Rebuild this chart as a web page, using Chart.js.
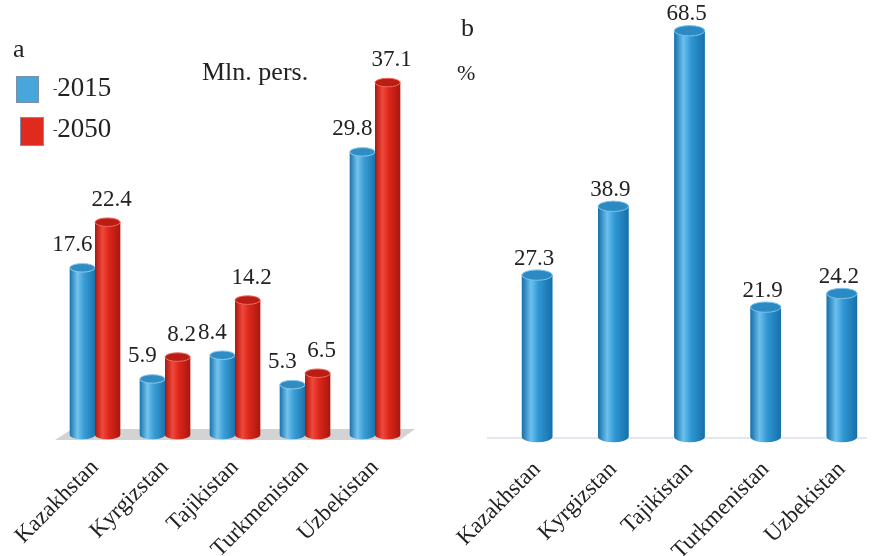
<!DOCTYPE html>
<html>
<head>
<meta charset="utf-8">
<script src="https://cdn.jsdelivr.net/npm/chart.js@4/dist/chart.umd.min.js"></script>
<style>
  body { margin: 0; background: #fff; width: 880px; height: 556px; position: relative; overflow: hidden;
         font-family: "Liberation Serif", "DejaVu Serif", serif; color: #222; }
  .panel { position: absolute; top: 0; width: 440px; height: 556px; }
  .txt { position: absolute; font-size: 26px; line-height: 1; white-space: nowrap; }
  .box { position: absolute; border: 1px solid #7a8fa8; }
  .dash { font-size: 13px; vertical-align: 3px; }
</style>
</head>
<body>
<div class="panel" style="left:0"><canvas id="chartA" width="440" height="556"></canvas></div>
<div class="panel" style="left:440px"><canvas id="chartB" width="440" height="556"></canvas></div>

<div class="txt" style="left:13px;top:36px">a</div>
<div class="box" style="left:16px;top:76px;width:21px;height:25px;background:#47a6da"></div>
<div class="txt" style="left:53px;top:74px;font-size:27px"><span class="dash">-</span>2015</div>
<div class="box" style="left:20px;top:117px;width:22px;height:27px;background:#e02a1e"></div>
<div class="txt" style="left:53px;top:115px;font-size:27px"><span class="dash">-</span>2050</div>
<div class="txt" style="left:202px;top:59px;font-size:26px">Mln. pers.</div>
<div class="txt" style="left:461px;top:15px">b</div>
<div class="txt" style="left:457px;top:62px;font-size:22px">%</div>

<script>
const countries = ["Kazakhstan", "Kyrgizstan", "Tajikistan", "Turkmenistan", "Uzbekistan"];
const pop2015 = [17.6, 5.9, 8.4, 5.3, 29.8];
const pop2050 = [22.4, 8.2, 14.2, 6.5, 37.1];
const shares = [27.3, 38.9, 68.5, 21.9, 24.2];

const serif = "'Liberation Serif', 'DejaVu Serif', serif";

const blueTone = { dark: "#1b74ad", mid: "#3c9fd6", light: "#74c3ec", cap: "#2f8dc3", rim: "#8ccbee" };
const redTone = { dark: "#a9170f", mid: "#dc271c", light: "#f0483a", cap: "#b91d14", rim: "#f06a5e" };
const blueTone2 = { dark: "#176fa8", mid: "#2f97d3", light: "#6cc0ee", cap: "#2b8ac4", rim: "#7cc2ea" };

// draws cylinder shading over each bar, and the value label above it
const cylinders = {
  id: "cylinders",
  beforeDatasetsDraw(chart, args, opts) {
    const ctx = chart.ctx;
    const area = chart.chartArea;
    ctx.save();
    if (opts.floor) {
      ctx.fillStyle = "#d3d3d3";
      ctx.beginPath();
      ctx.moveTo(area.left + 12, area.bottom - 6);
      ctx.lineTo(area.right + 5, area.bottom - 6);
      ctx.lineTo(area.right - 10, area.bottom + 5);
      ctx.lineTo(area.left - 5, area.bottom + 5);
      ctx.closePath();
      ctx.fill();
    } else {
      ctx.strokeStyle = "#c9d2de";
      ctx.lineWidth = 1.2;
      ctx.beginPath();
      ctx.moveTo(area.left - 12, area.bottom + 1);
      ctx.lineTo(area.right - 13, area.bottom + 1);
      ctx.stroke();
    }
    ctx.restore();
  },
  afterDatasetsDraw(chart, args, opts) {
    const ctx = chart.ctx;
    chart.data.datasets.forEach((ds, di) => {
      const tone = opts.tones[di];
      const meta = chart.getDatasetMeta(di);
      meta.data.forEach((el, i) => {
        const p = el.getProps(["x", "y", "base", "width"], true);
        const r = p.width / 2;
        const ry = Math.max(3, p.width * 0.17);
        const l = p.x - r, rt = p.x + r;
        const g = ctx.createLinearGradient(l, 0, rt, 0);
        g.addColorStop(0, tone.dark);
        g.addColorStop(0.3, tone.light);
        g.addColorStop(0.55, tone.mid);
        g.addColorStop(1, tone.dark);
        ctx.save();
        ctx.fillStyle = g;
        ctx.beginPath();
        ctx.moveTo(l, p.y);
        ctx.lineTo(l, p.base);
        ctx.ellipse(p.x, p.base, r, ry, 0, Math.PI, 0, true);
        ctx.lineTo(rt, p.y);
        ctx.closePath();
        ctx.fill();
        ctx.beginPath();
        ctx.ellipse(p.x, p.y, r, ry, 0, 0, Math.PI * 2);
        ctx.fillStyle = tone.cap;
        ctx.fill();
        ctx.strokeStyle = tone.rim;
        ctx.lineWidth = 1;
        ctx.stroke();
        // value label
        ctx.fillStyle = "#222";
        ctx.font = "23px " + serif;
        ctx.textAlign = "center";
        ctx.textBaseline = "bottom";
        ctx.fillText(ds.data[i].toFixed(1), p.x + opts.shift[di], p.y - opts.gap);
        ctx.restore();
      });
    });
  }
};

function xAxis(h) {
  return {
    offset: true,
    grid: { display: false },
    border: { display: false },
    ticks: {
      color: "#222",
      font: { family: serif, size: 23 },
      minRotation: 45,
      maxRotation: 45,
      autoSkip: false,
      padding: 11
    },
    afterFit(scale) { scale.height = h; }
  };
}

new Chart(document.getElementById("chartA"), {
  type: "bar",
  data: {
    labels: countries,
    datasets: [
      { label: "2015", data: pop2015, backgroundColor: blueTone.mid, borderWidth: 0 },
      { label: "2050", data: pop2050, backgroundColor: redTone.mid, borderWidth: 0 }
    ]
  },
  options: {
    responsive: false,
    animation: false,
    events: [],
    categoryPercentage: 0.72,
    barPercentage: 1,
    layout: { padding: { left: 60, right: 30, top: 55, bottom: 0 } },
    scales: {
      x: xAxis(121),
      y: { display: false, min: 0, max: 40 }
    },
    plugins: {
      legend: { display: false },
      tooltip: { enabled: false },
      cylinders: { tones: [blueTone, redTone], shift: [-10, 4], gap: 11, floor: true }
    }
  },
  plugins: [cylinders]
});

new Chart(document.getElementById("chartB"), {
  type: "bar",
  data: {
    labels: countries,
    datasets: [
      { label: "%", data: shares, backgroundColor: blueTone2.mid, borderWidth: 0 }
    ]
  },
  options: {
    responsive: false,
    animation: false,
    events: [],
    categoryPercentage: 1,
    barPercentage: 0.4,
    layout: { padding: { left: 59, right: 0, top: 10, bottom: 0 } },
    scales: {
      x: xAxis(119),
      y: { display: false, min: 0, max: 72 }
    },
    plugins: {
      legend: { display: false },
      tooltip: { enabled: false },
      cylinders: { tones: [blueTone2], shift: [-3], gap: 5, floor: false }
    }
  },
  plugins: [cylinders]
});
</script>
</body>
</html>
